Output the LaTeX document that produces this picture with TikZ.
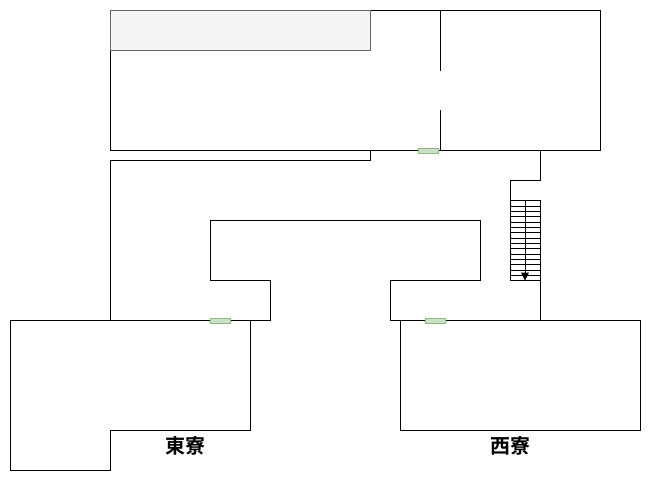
\documentclass[tikz,border=0pt]{standalone}
\usepackage{fontspec}
\newfontfamily\cjkbold{Noto Sans CJK JP Bold}
\definecolor{doorfill}{HTML}{C9E2C4}
\definecolor{doorline}{HTML}{8DB87F}
\begin{document}
\begin{tikzpicture}[x=0.75pt,y=-0.75pt,
  wall/.style={draw=black,line width=0.75pt,line cap=rect,line join=miter},
  shaded/.style={draw=black!60,fill=black!4,line width=0.75pt},
  doorbox/.style={draw=doorline,fill=doorfill,line width=0.75pt},
  tread/.style={draw=black,line width=0.75pt},
  label/.style={font=\cjkbold\fontsize{15}{18}\selectfont,inner sep=0pt}]
\useasboundingbox (0,-0.7) rectangle (651,480.3);
\fill[white] (0,-0.7) rectangle (651,480.3);
% upper block
\draw[wall] (110,10) rectangle (600,150);
\draw[shaded] (110,10) rectangle (370,50);
\draw[wall] (440,10) -- (440,70);
\draw[wall] (440,110) -- (440,150);
% corridor
\draw[wall] (110,320) -- (110,160) -- (370,160) -- (370,150);
\draw[wall] (270,320) -- (270,280) -- (210,280) -- (210,220) -- (480,220) -- (480,280) -- (390,280) -- (390,320) -- (540,320) -- (540,280);
\draw[wall] (540,150) -- (540,180) -- (510,180) -- (510,200);
% buildings
\draw[wall] (10,320) -- (270,320);
\draw[wall] (10,320) -- (10,470) -- (110,470) -- (110,430) -- (250,430) -- (250,320);
\draw[wall] (400,320) rectangle (640,430);
% stairs
\draw[wall] (510,200) rectangle (540,280);
\foreach \i in {1,...,14} \draw[tread] (510,200+\i*5.333) -- (540,200+\i*5.333);
\draw[wall] (525,200) -- (525,272);
\fill[black] (521,272) -- (529,272) -- (525,280) -- cycle;
% doors
\draw[doorbox] (418,148) rectangle (438,153);
\draw[doorbox] (210,317.5) rectangle (230,322.5);
\draw[doorbox] (425,317.5) rectangle (445,322.5);
% labels
\node[label] (east) at (185,445) {東寮};
\node[label] (west) at (510,445) {西寮};
\end{tikzpicture}
\end{document}
